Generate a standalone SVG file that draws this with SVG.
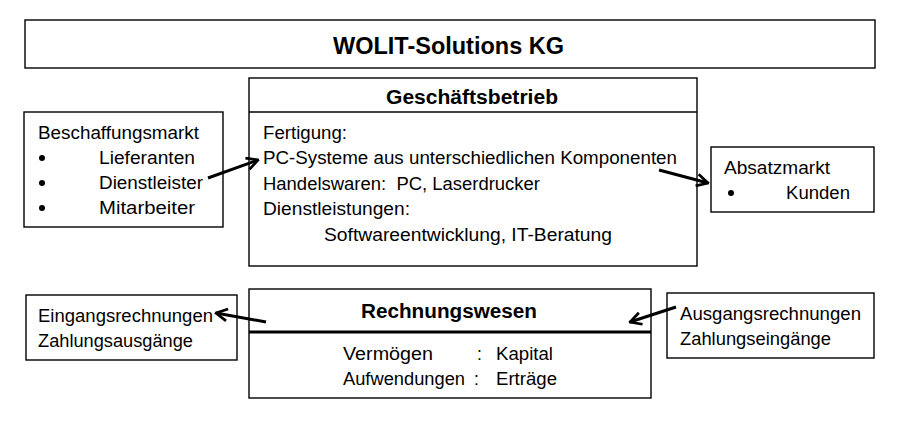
<svg xmlns="http://www.w3.org/2000/svg" width="907" height="433" viewBox="0 0 907 433">
<style>
  .box{fill:#fff;stroke:#000;stroke-width:1.4}
  .t{font-family:"Liberation Sans",Arial,sans-serif;font-size:17.5px;fill:#000}
  .b{font-family:"Liberation Sans",Arial,sans-serif;font-weight:bold;fill:#000}
  .conn{stroke:#000;stroke-width:3;fill:none;marker-end:url(#ah)}
</style>
<defs>
  <marker id="ah" viewBox="0 0 10 10" refX="9" refY="5" markerWidth="5" markerHeight="5" orient="auto" markerUnits="strokeWidth">
    <path d="M1.5,1 L9,5 L1.5,9" fill="none" stroke="#000" stroke-width="1.8"/>
  </marker>
</defs>
<rect width="907" height="433" fill="#fff"/>
<g id="title">
  <rect class="box" x="25" y="20" width="850" height="48"/>
  <text class="b" x="333" y="54" font-size="23" textLength="231" lengthAdjust="spacingAndGlyphs">WOLIT-Solutions KG</text>
</g>
<g id="geschaeftsbetrieb">
  <rect class="box" x="249" y="78" width="448" height="188"/>
  <line x1="249" y1="112" x2="697" y2="112" stroke="#000" stroke-width="1.6"/>
  <text class="b" x="386" y="104" font-size="20" textLength="172" lengthAdjust="spacingAndGlyphs">Geschäftsbetrieb</text>
  <text class="t" x="263" y="139" textLength="84" lengthAdjust="spacingAndGlyphs">Fertigung:</text>
  <text class="t" x="263" y="164" textLength="414" lengthAdjust="spacingAndGlyphs">PC-Systeme aus unterschiedlichen Komponenten</text>
  <text class="t" x="263" y="190" textLength="277" lengthAdjust="spacingAndGlyphs" xml:space="preserve">Handelswaren:  PC, Laserdrucker</text>
  <text class="t" x="263" y="215" textLength="147" lengthAdjust="spacingAndGlyphs">Dienstleistungen:</text>
  <text class="t" x="324" y="241" textLength="288" lengthAdjust="spacingAndGlyphs">Softwareentwicklung, IT-Beratung</text>
</g>
<g id="beschaffungsmarkt">
  <rect class="box" x="24" y="112" width="199" height="115"/>
  <text class="t" x="38" y="139" textLength="161" lengthAdjust="spacingAndGlyphs">Beschaffungsmarkt</text>
  <circle cx="42" cy="158" r="3"/>
  <circle cx="42" cy="183" r="3"/>
  <circle cx="42" cy="208" r="3"/>
  <text class="t" x="99" y="164" textLength="96" lengthAdjust="spacingAndGlyphs">Lieferanten</text>
  <text class="t" x="99" y="189" textLength="104" lengthAdjust="spacingAndGlyphs">Dienstleister</text>
  <text class="t" x="99" y="214" textLength="96" lengthAdjust="spacingAndGlyphs">Mitarbeiter</text>
</g>
<g id="absatzmarkt">
  <rect class="box" x="711" y="147" width="163" height="65"/>
  <text class="t" x="724" y="174" textLength="106" lengthAdjust="spacingAndGlyphs">Absatzmarkt</text>
  <circle cx="731" cy="193" r="3"/>
  <text class="t" x="786" y="199" textLength="64" lengthAdjust="spacingAndGlyphs">Kunden</text>
</g>
<g id="rechnungswesen">
  <rect class="box" x="249" y="289" width="402" height="109"/>
  <line x1="249" y1="332" x2="651" y2="332" stroke="#000" stroke-width="3"/>
  <text class="b" x="361" y="318" font-size="20" textLength="176" lengthAdjust="spacingAndGlyphs">Rechnungswesen</text>
  <text class="t" x="343" y="360" textLength="90" lengthAdjust="spacingAndGlyphs">Vermögen</text>
  <text class="t" x="477" y="360">:</text>
  <text class="t" x="496" y="360" textLength="57" lengthAdjust="spacingAndGlyphs">Kapital</text>
  <text class="t" x="343" y="385" textLength="122" lengthAdjust="spacingAndGlyphs">Aufwendungen</text>
  <text class="t" x="474" y="385">:</text>
  <text class="t" x="496" y="385" textLength="61" lengthAdjust="spacingAndGlyphs">Erträge</text>
</g>
<g id="eingangsrechnungen">
  <rect class="box" x="26" y="295" width="211" height="65"/>
  <text class="t" x="38" y="322" textLength="175" lengthAdjust="spacingAndGlyphs">Eingangsrechnungen</text>
  <text class="t" x="38" y="347" textLength="155" lengthAdjust="spacingAndGlyphs">Zahlungsausgänge</text>
</g>
<g id="ausgangsrechnungen">
  <rect class="box" x="667" y="293" width="207" height="65"/>
  <text class="t" x="680" y="320" textLength="181" lengthAdjust="spacingAndGlyphs">Ausgangsrechnungen</text>
  <text class="t" x="680" y="345" textLength="151" lengthAdjust="spacingAndGlyphs">Zahlungseingänge</text>
</g>
<g id="connectors">
  <line class="conn" x1="208" y1="178" x2="258" y2="160"/>
  <line class="conn" x1="659" y1="170" x2="708" y2="183"/>
  <line class="conn" x1="266" y1="322" x2="216" y2="313"/>
  <line class="conn" x1="676" y1="307" x2="630" y2="322"/>
</g>
</svg>
